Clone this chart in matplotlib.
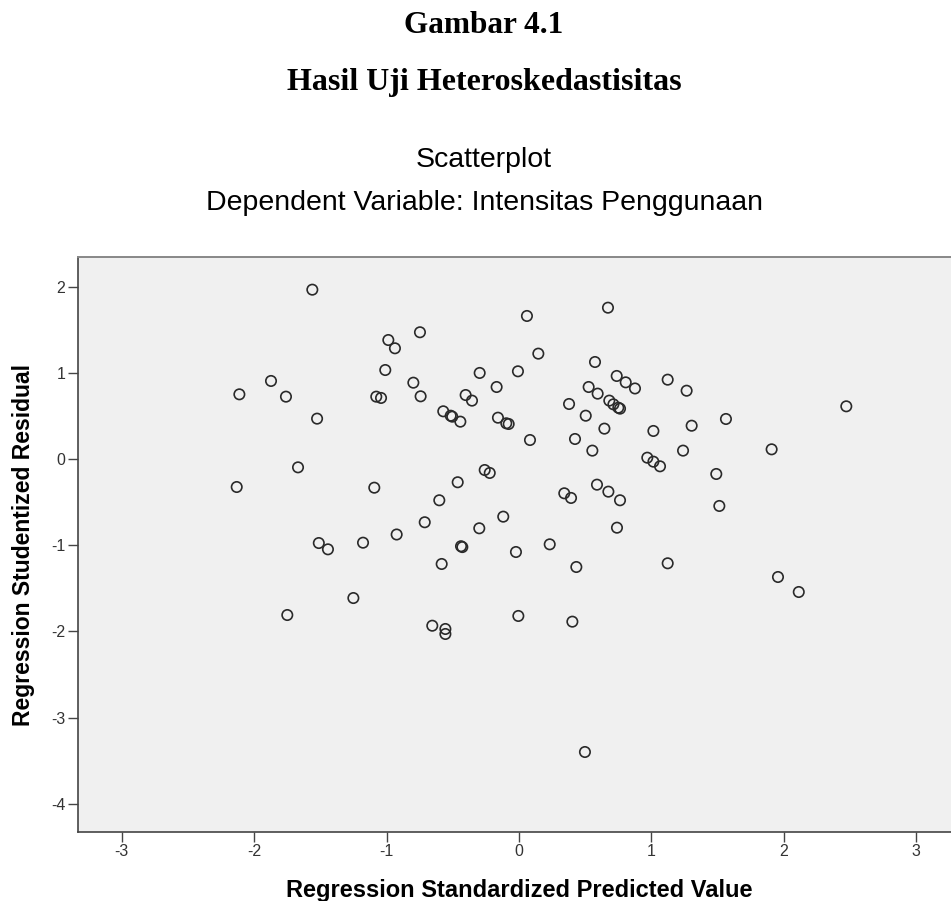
import numpy as np
import matplotlib
matplotlib.use('Agg')
import matplotlib.pyplot as plt

# values
pred_value = [-1.561, -2.112, -1.873, -1.760, -1.525, -1.669, -2.132, -1.750, -1.512, -1.443,
              -1.178, -0.987, -0.937, -0.748, -1.010, -0.798, -0.743, -1.078, -1.042, 0.060,
              0.672, 0.146, -0.297, -0.008, -0.169, -0.403, -0.355, -0.572, -0.516, -0.504,
              -0.443, -0.159, -0.096, -0.078, 0.083, 0.574, 0.738, 0.806, 0.876, 0.526,
              0.594, 0.682, 0.713, 0.750, 0.763, 0.378, 0.504, 0.645, 0.423, 0.554,
              1.015, 0.969, 1.015, 1.065, -0.259, -0.221, -0.463, -1.093, -0.602, 0.342,
              0.393, 0.589, 0.675, 0.763, -0.712, -0.924, -0.300, -0.119, 0.740, -0.438,
              -0.428, -0.584, -0.023, 0.232, 0.433, -1.251, -0.655, -0.556, -0.556, -0.005,
              0.403, 0.498, 1.123, 1.266, 1.304, 1.563, 2.472, 1.239, 1.908, 1.490,
              1.513, 1.123, 1.956, 2.113]
stud_resid = [1.964, 0.750, 0.905, 0.723, 0.468, -0.097, -0.325, -1.810, -0.975, -1.048,
              -0.971, 1.380, 1.284, 1.470, 1.032, 0.885, 0.727, 0.723, 0.708, 1.659,
              1.755, 1.222, 0.998, 1.017, 0.835, 0.742, 0.677, 0.553, 0.502, 0.491,
              0.433, 0.479, 0.414, 0.406, 0.220, 1.125, 0.963, 0.889, 0.818, 0.835,
              0.758, 0.677, 0.634, 0.595, 0.584, 0.638, 0.502, 0.352, 0.232, 0.097,
              0.325, 0.015, -0.031, -0.085, -0.128, -0.162, -0.270, -0.333, -0.479, -0.398,
              -0.452, -0.298, -0.379, -0.479, -0.734, -0.876, -0.804, -0.669, -0.797, -1.012,
              -1.022, -1.218, -1.079, -0.990, -1.253, -1.613, -1.934, -1.972, -2.030, -1.821,
              -1.887, -3.399, 0.920, 0.792, 0.386, 0.464, 0.611, 0.097, 0.112, -0.174,
              -0.545, -1.210, -1.369, -1.543]
x_ticks = [-3, -2, -1, 0, 1, 2, 3]
y_ticks = [2, 1, 0, -1, -2, -3, -4]

W, H = 951, 901
fig = plt.figure(figsize=(W / 100, H / 100), dpi=100)

# axes placed in pixels (right edge runs past the cropped picture)
left, right, top, bottom = 77.7, 960.3, 257, 832
ax = fig.add_axes([left / W, 1 - bottom / H, (right - left) / W, (bottom - top) / H])
ax.set_facecolor('#f0f0f0')

ax.scatter(pred_value, stud_resid, s=56, facecolors='none', edgecolors='#2a2a2a', linewidths=1.2)

ax.set_xlim(-3.333, 3.333)
ax.set_ylim(-4.327, 2.343)
ax.set_xticks(x_ticks)
ax.set_yticks(y_ticks)
ax.set_xticklabels([str(t) for t in x_ticks])
ax.set_yticklabels([str(t) for t in y_ticks])
ax.tick_params(direction='out', length=7, width=1.0, color='#444444', labelcolor='#333333',
               labelsize=11.5, pad=2, labelfontfamily='Liberation Sans')
for side in ['left', 'bottom']:
    ax.spines[side].set_color('#444444')
    ax.spines[side].set_linewidth(1.2)
ax.spines['top'].set_color('#888888')
ax.spines['top'].set_linewidth(1.4)
ax.spines['right'].set_visible(False)

def px_text(x, y, s, **kw):
    fig.text(x / W, 1 - y / H, s, **kw)

serif = ['Liberation Serif', 'DejaVu Serif']
sans = ['Liberation Sans', 'DejaVu Sans']
px_text(484, 33, 'Gambar 4.1', ha='center', va='baseline', fontsize=22.5, fontweight='bold', family=serif)
px_text(484, 90, 'Hasil Uji Heteroskedastisitas', ha='center', va='baseline', fontsize=23,
        fontweight='bold', family=serif)
px_text(484, 167, 'Scatterplot', ha='center', va='baseline', fontsize=20.5, family=sans)
px_text(484, 210, 'Dependent Variable: Intensitas Penggunaan', ha='center', va='baseline',
        fontsize=20.5, family=sans)
px_text(519, 897, 'Regression Standardized Predicted Value', ha='center', va='baseline',
        fontsize=17, fontweight='bold', family=sans)
px_text(24, 545, 'Regression Studentized Residual', ha='center', va='center', rotation=90,
        fontsize=16.5, fontweight='bold', family=sans)

fig.savefig('out.png', dpi=100)
